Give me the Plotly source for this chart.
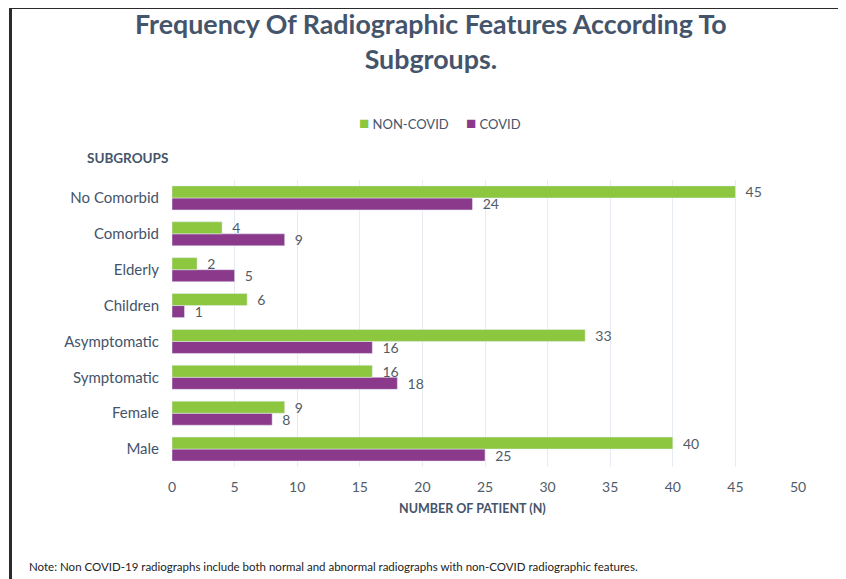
import plotly.graph_objects as go

subgroups = ["Male", "Female", "Symptomatic", "Asymptomatic",
             "Children", "Elderly", "Comorbid", "No Comorbid"]
non_covid = [40, 9, 16, 33, 6, 2, 4, 45]
covid = [25, 8, 18, 16, 1, 5, 9, 24]
x_ticks = [0, 5, 10, 15, 20, 25, 30, 35, 40, 45, 50]

GREEN = "#8DC63F"
PURPLE = "#8B3A8B"
SLATE = "#44546A"
GREY = "#525B68"
FONT = "Lato, 'Open Sans', sans-serif"

# the page body has an 8px margin, so the figure starts at (8, 8)
OFF = 8
W, H = 846 - OFF, 579 - OFF
# plot area on the page: x 172..798, y 180..467
L, T = 172 - OFF, 180 - OFF
R, B = W - (798 - OFF), H - (467 - OFF)
PW, PH = W - L - R, H - T - B


def px(x):
    # page pixel x -> paper coordinate
    return (x - OFF - L) / PW


def py(y):
    # page pixel y -> paper coordinate
    return (H - B - (y - OFF)) / PH


fig = go.Figure()

fig.add_trace(go.Bar(
    y=subgroups, x=covid, name="COVID", orientation="h",
    marker=dict(color=PURPLE),
    text=[f"  {v}" for v in covid], textposition="outside",
    constraintext="none",
    textfont=dict(size=14, color=GREY, family=FONT),
    cliponaxis=False, showlegend=False,
))
fig.add_trace(go.Bar(
    y=subgroups, x=non_covid, name="NON-COVID", orientation="h",
    marker=dict(color=GREEN),
    text=[f"  {v}" for v in non_covid], textposition="outside",
    constraintext="none",
    textfont=dict(size=14, color=GREY, family=FONT),
    cliponaxis=False, showlegend=False,
))

fig.update_layout(
    width=W, height=H,
    margin=dict(l=L, r=R, t=T, b=B),
    paper_bgcolor="white", plot_bgcolor="white",
    barmode="group", bargap=0.33, bargroupgap=0,
    font=dict(family=FONT, color=SLATE),
    xaxis=dict(range=[0, 50], tickvals=x_ticks, showgrid=True,
               gridcolor="#E6ECF2", gridwidth=1, zeroline=False,
               showline=False, ticks="", ticklabelstandoff=10,
               tickfont=dict(size=14, color=GREY)),
    yaxis=dict(range=[-0.5, 7.5], showgrid=False, zeroline=False,
               showline=False, ticks="", ticklabelstandoff=12,
               tickfont=dict(size=15, color=SLATE)),
)

# legend drawn as text so the swatches sit close to their labels
legend_items = [("NON-COVID", GREEN, 357), ("COVID", PURPLE, 464)]
for name, color, x0 in legend_items:
    fig.add_annotation(
        text=f"<span style='color:{color};font-size:17px'>■</span> {name}",
        xref="paper", yref="paper", x=px(x0), y=py(122),
        xanchor="left", yanchor="middle", showarrow=False,
        font=dict(size=13, color=SLATE),
    )

fig.add_annotation(
    text="<b>Frequency Of Radiographic Features According To<br>Subgroups.</b>",
    xref="paper", yref="paper", x=px(431), y=py(41),
    xanchor="center", yanchor="middle", showarrow=False,
    font=dict(size=26.8, color=SLATE), align="center",
)
fig.add_annotation(
    text="<b>SUBGROUPS</b>", xref="paper", yref="paper",
    x=px(85), y=py(158), xanchor="left", yanchor="middle",
    showarrow=False, font=dict(size=13.5, color=SLATE),
)
fig.add_annotation(
    text="<b>NUMBER OF PATIENT (N)</b>", xref="paper", yref="paper",
    x=px(472), y=py(508), xanchor="center", yanchor="middle",
    showarrow=False, font=dict(size=12.5, color=SLATE),
)
fig.add_annotation(
    text="Note: Non COVID-19 radiographs include both normal and abnormal "
         "radiographs with non-COVID radiographic features.",
    xref="paper", yref="paper", x=px(27), y=py(566),
    xanchor="left", yanchor="middle", showarrow=False,
    font=dict(size=11.5, color="#222222"),
)

# frame lines at top and left
fig.add_shape(
    type="path", xref="paper", yref="paper",
    path=f"M {px(850)},{py(7.5)} L {px(10.5)},{py(7.5)} L {px(10.5)},{py(585)}",
    line=dict(color="#2B2B2B", width=3),
)

fig.write_html("out.html")
